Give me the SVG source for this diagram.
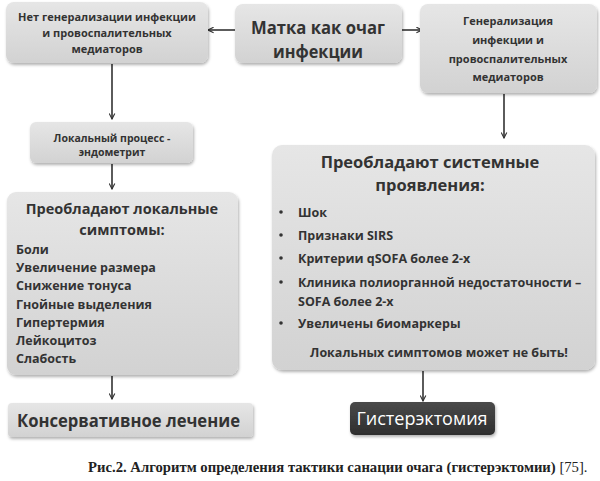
<svg xmlns="http://www.w3.org/2000/svg" width="600" height="481" viewBox="0 0 600 481">
<defs>
<linearGradient id="g" x1="0" y1="0" x2="0" y2="1">
<stop offset="0" stop-color="#e6e6e6"/>
<stop offset="1" stop-color="#d2d2d2"/>
</linearGradient>
<linearGradient id="gd" x1="0" y1="0" x2="0" y2="1">
<stop offset="0" stop-color="#4a4a4a"/>
<stop offset="1" stop-color="#2e2e2e"/>
</linearGradient>
<filter id="sh" x="-10%" y="-10%" width="120%" height="130%">
<feDropShadow dx="1" dy="2" stdDeviation="1.5" flood-color="#000" flood-opacity="0.3"/>
</filter>
<marker id="ah" viewBox="0 0 10 10" refX="9" refY="5" markerWidth="7" markerHeight="7" orient="auto" markerUnits="userSpaceOnUse">
<path d="M1,1 L9,5 L1,9" fill="none" stroke="#333" stroke-width="1.6"/>
</marker>
</defs>
<style>
.box{fill:url(#g);filter:url(#sh);}
.t{font-family:"Open Sans","DejaVu Sans",sans-serif;font-weight:bold;fill:#333;}
.c{text-anchor:middle;}
.s{font-size:11px;}
.m{font-size:12.5px;}
.line{stroke:#333;stroke-width:1.6;fill:none;marker-end:url(#ah);}
</style>
<rect width="600" height="481" fill="#fff"/>
<g id="connectors">
<line class="line" x1="235" y1="30" x2="208" y2="30"/>
<line class="line" x1="402" y1="30" x2="422" y2="30"/>
<line class="line" x1="112" y1="64" x2="112" y2="119"/>
<line class="line" x1="112" y1="164" x2="112" y2="189"/>
<line class="line" x1="504" y1="94" x2="504" y2="138"/>
<line class="line" x1="112" y1="376" x2="112" y2="399"/>
<line class="line" x1="423" y1="371" x2="423" y2="401"/>
</g>
<g id="n_no_gen">
<rect class="box" x="6" y="2" width="202" height="61" rx="8"/>
<text class="t c s" x="107" y="21">Нет генерализации  инфекции</text>
<text class="t c s" x="107" y="37">и провоспалительных</text>
<text class="t c s" x="107" y="53">медиаторов</text>
</g>
<g id="n_uterus">
<rect class="box" x="235" y="4" width="167" height="59" rx="8"/>
<text class="t c" font-size="18" x="318" y="34" textLength="134" lengthAdjust="spacingAndGlyphs">Матка как очаг</text>
<text class="t c" font-size="18" x="318" y="58" textLength="90" lengthAdjust="spacingAndGlyphs">инфекции</text>
</g>
<g id="n_gen">
<rect class="box" x="420" y="4" width="177" height="89" rx="8"/>
<text class="t c s" x="508" y="25">Генерализация</text>
<text class="t c s" x="508" y="44">инфекции и</text>
<text class="t c s" x="508" y="63">провоспалительных</text>
<text class="t c s" x="508" y="81">медиаторов</text>
</g>
<g id="n_local_proc">
<rect class="box" x="30" y="122" width="163" height="41" rx="6"/>
<text class="t c" font-size="10.5" x="112" y="142">Локальный  процесс -</text>
<text class="t c" font-size="10.5" x="112" y="156">эндометрит</text>
</g>
<g id="n_local_sym">
<rect class="box" x="7" y="192" width="231" height="183" rx="9"/>
<text class="t c" font-size="14.5" x="122" y="214">Преобладают локальные</text>
<text class="t c" font-size="14.5" x="122" y="235">симптомы:</text>
<text class="t m" x="16" y="254">Боли</text>
<text class="t m" x="16" y="272">Увеличение размера</text>
<text class="t m" x="16" y="290">Снижение тонуса</text>
<text class="t m" x="16" y="309">Гнойные выделения</text>
<text class="t m" x="16" y="327">Гипертермия</text>
<text class="t m" x="16" y="345">Лейкоцитоз</text>
<text class="t m" x="16" y="363">Слабость</text>
</g>
<g id="n_system">
<rect class="box" x="272" y="145" width="323" height="225" rx="10"/>
<text class="t c" font-size="16.5" x="430" y="168">Преобладают системные</text>
<text class="t c" font-size="16.5" x="430" y="191">проявления:</text>
<circle cx="281" cy="212" r="1.8" fill="#333"/>
<circle cx="281" cy="235" r="1.8" fill="#333"/>
<circle cx="281" cy="258" r="1.8" fill="#333"/>
<circle cx="281" cy="282" r="1.8" fill="#333"/>
<circle cx="281" cy="323" r="1.8" fill="#333"/>
<text class="t m" x="298" y="217">Шок</text>
<text class="t m" x="298" y="240">Признаки SIRS</text>
<text class="t m" x="298" y="263">Критерии qSOFA более 2-х</text>
<text class="t m" x="298" y="287">Клиника полиорганной недостаточности –</text>
<text class="t m" x="298" y="306">SOFA более 2-х</text>
<text class="t m" x="298" y="328">Увеличены биомаркеры</text>
<text class="t c m" x="439" y="357">Локальных симптомов может не быть!</text>
</g>
<g id="n_conserv">
<rect class="box" x="8" y="403" width="245" height="34" rx="4"/>
<text class="t" font-size="18" x="17" y="427" textLength="223" lengthAdjust="spacingAndGlyphs">Консервативное  лечение</text>
</g>
<g id="n_hyster">
<rect x="350" y="402" width="145" height="33" rx="5" fill="url(#gd)" filter="url(#sh)"/>
<text font-family="'Open Sans','DejaVu Sans',sans-serif" font-size="18" fill="#fff" text-anchor="middle" x="422" y="425">Гистерэктомия</text>
</g>
<text x="88" y="472" font-family="'Liberation Serif','Times New Roman',serif" font-size="14.7" font-weight="bold" fill="#222">Рис.2.  Алгоритм определения тактики санации очага (гистерэктомии) <tspan font-weight="normal">[75].</tspan></text>
</svg>
